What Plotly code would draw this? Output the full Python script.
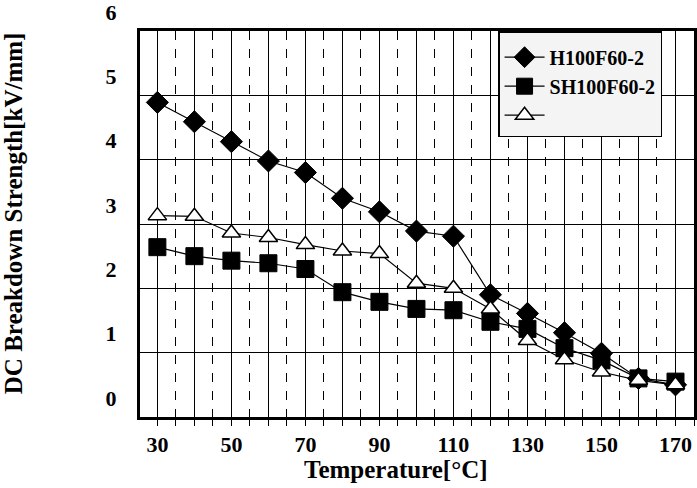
import plotly.graph_objects as go

temperature = [30, 40, 50, 60, 70, 80, 90, 100, 110, 120, 130, 140, 150, 160, 170]
h100f60 = [4.89, 4.59, 4.28, 3.98, 3.80, 3.40, 3.19, 2.89, 2.81, 1.90, 1.61, 1.31, 0.99, 0.60, 0.50]
sh100f60 = [2.64, 2.50, 2.43, 2.39, 2.30, 1.94, 1.79, 1.68, 1.66, 1.48, 1.37, 1.07, 0.88, 0.60, 0.55]
third = [3.13, 3.12, 2.86, 2.79, 2.68, 2.58, 2.54, 2.08, 2.00, 1.68, 1.19, 0.89, 0.70, 0.57, 0.50]

series_names = ["H100F60-2", "SH100F60-2", " "]
x_tickvals = [30, 40, 50, 60, 70, 80, 90, 100, 110, 120, 130, 140, 150, 160, 170]
x_ticktext = ["30", "", "50", "", "70", "", "90", "", "110", "", "130", "", "150", "", "170"]
y_tickvals = [0, 1, 2, 3, 4, 5, 6]

FONT = "Liberation Serif"

fig = go.Figure()
fig.add_trace(go.Scatter(
    x=temperature, y=h100f60, name=series_names[0], mode="lines+markers",
    line=dict(color="black", width=1.2),
    marker=dict(symbol="diamond", size=17, color="black", line=dict(color="black", width=1)),
))
fig.add_trace(go.Scatter(
    x=temperature, y=sh100f60, name=series_names[1], mode="lines+markers",
    line=dict(color="black", width=1.2),
    marker=dict(symbol="square", size=17, color="black", line=dict(color="black", width=1)),
))
fig.add_trace(go.Scatter(
    x=temperature, y=third, name=series_names[2], mode="lines+markers",
    line=dict(color="black", width=1.2),
    marker=dict(symbol="triangle-up", size=16, color="white", line=dict(color="black", width=1.5)),
))

fig.update_layout(
    width=697, height=488,
    margin=dict(l=140, r=0, t=30, b=71),
    paper_bgcolor="white", plot_bgcolor="white",
    font=dict(family=FONT, color="black"),
    showlegend=True,
    legend=dict(
        x=(500 - 140) / 557, y=1.0, xanchor="left", yanchor="top",
        bgcolor="#f4f4f4", bordercolor="black", borderwidth=1.5,
        font=dict(family=FONT, size=20, color="black", weight="bold"),
        title=dict(text=" ", font=dict(size=4)),
        itemwidth=40, tracegroupgap=0,
        entrywidth=135, entrywidthmode="pixels",
    ),
    xaxis=dict(
        range=[25.3, 175], tickmode="array", tickvals=x_tickvals, ticktext=x_ticktext,
        showgrid=True, gridcolor="black", gridwidth=1,
        showline=True, linecolor="black", linewidth=3, mirror=True,
        ticks="outside", ticklen=6, tickcolor="black", tickwidth=1,
        tickfont=dict(family=FONT, size=22, color="black", weight="bold"),
        minor=dict(dtick=5, tick0=25, showgrid=True, gridcolor="black", gridwidth=1,
                   griddash="dash", ticks="outside", ticklen=6, tickcolor="black"),
        zeroline=False,
    ),
    yaxis=dict(
        range=[0, 6], tickmode="array", tickvals=y_tickvals,
        showgrid=True, gridcolor="black", gridwidth=1.2,
        showline=True, linecolor="black", linewidth=3, mirror=True,
        ticks="", ticklabelstandoff=16, ticklabelshift=-19,
        ticklabeloverflow="allow",
        tickfont=dict(family=FONT, size=22, color="black", weight="bold"),
        zeroline=False,
    ),
    annotations=[
        dict(text="Temperature[°C]", xref="paper", yref="paper",
             x=(397 - 140) / 557, y=(417 - 470) / 387, xanchor="center", yanchor="middle",
             showarrow=False, font=dict(family=FONT, size=25, color="black", weight="bold")),
        dict(text="DC Breakdown Strength[kV/mm]", xref="paper", yref="paper",
             x=(13 - 140) / 557, y=(417 - 213) / 387, xanchor="center", yanchor="middle",
             textangle=-90, showarrow=False,
             font=dict(family=FONT, size=25, color="black", weight="bold")),
    ],
)

fig.write_html("out.html", config={"displayModeBar": False},
               post_script="document.body.style.margin='0px';")
